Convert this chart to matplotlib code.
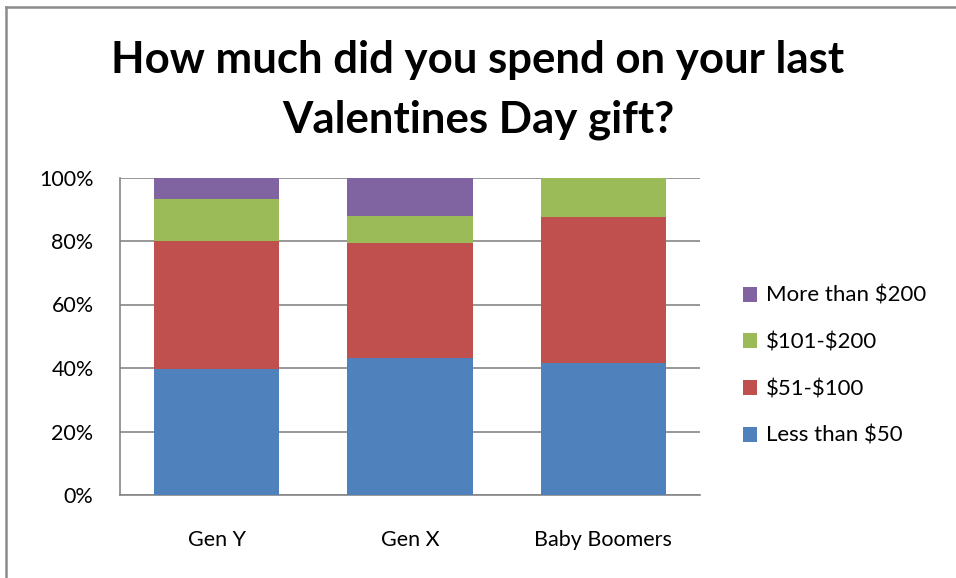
import matplotlib
matplotlib.use("Agg")
import matplotlib.pyplot as plt
from matplotlib.lines import Line2D
from matplotlib.patches import Patch
import numpy as np

# ===========================
# DATA
# ===========================
groups = ["Gen Y", "Gen X", "Baby Boomers"]
less_50 = [39.8, 43.0, 41.5]
from_51_100 = [40.1, 36.3, 46.1]
from_101_200 = [13.3, 8.6, 12.4]
more_200 = [6.8, 12.1, 0.0]

series_names = ["Less than \\$50", "\\$51-\\$100", "\\$101-\\$200", "More than \\$200"]
series_values = [less_50, from_51_100, from_101_200, more_200]
colors = ["#4F81BD", "#C0504D", "#9BBB59", "#8064A2"]

yticks = [0, 20, 40, 60, 80, 100]

plt.rcParams["font.family"] = ["Lato", "DejaVu Sans"]

# ===========================
# FIGURE
# ===========================
fig = plt.figure(figsize=(9.56, 5.78), dpi=100)
ax = fig.add_axes([120 / 956, 1 - 495 / 578, 580 / 956, 317.5 / 578])

x = np.arange(len(groups))
bottom = np.zeros(len(groups))
for name, vals, col in zip(series_names, series_values, colors):
    ax.bar(x, vals, width=0.647, bottom=bottom, color=col, label=name,
           edgecolor="none", zorder=3)
    bottom += np.array(vals)

ax.set_xlim(-0.5, len(groups) - 0.5)
ax.set_ylim(0, 100)
ax.set_yticks(yticks)
ax.set_yticklabels([f"{t}%" for t in yticks], fontsize=15.5)
ax.set_xticks(x)
ax.set_xticklabels(groups, fontsize=15.5)
ax.tick_params(axis="y", length=0, pad=19)
ax.tick_params(axis="x", length=0, pad=25)

ax.grid(axis="y", color="#868686", linewidth=1.2, zorder=0)
for s in ["top", "right"]:
    ax.spines[s].set_visible(False)
for s in ["left", "bottom"]:
    ax.spines[s].set_color("#868686")
    ax.spines[s].set_linewidth(1.2)

# legend, reversed like Excel
handles = [Patch(facecolor=c, edgecolor="none") for c in colors][::-1]
fig.legend(handles, series_names[::-1], loc="center left",
           bbox_to_anchor=(723 / 956, 1 - 366 / 578), frameon=False,
           fontsize=16, handlelength=0.65, handleheight=0.65,
           handletextpad=0.4, labelspacing=1.2)

fig.text(0.5, 1 - 60 / 578, "How much did you spend on your last",
         ha="center", va="center", fontsize=31.5, fontweight="bold")
fig.text(0.5, 1 - 120 / 578, "Valentines Day gift?",
         ha="center", va="center", fontsize=31.5, fontweight="bold")

# chart area border (left and top visible)
fig.add_artist(Line2D([6 / 956, 6 / 956], [0, 1 - 7 / 578], color="#8C8C8C", linewidth=1.8))
fig.add_artist(Line2D([6 / 956, 1], [1 - 7 / 578, 1 - 7 / 578], color="#8C8C8C", linewidth=1.8))

fig.savefig("out.png", dpi=100)
